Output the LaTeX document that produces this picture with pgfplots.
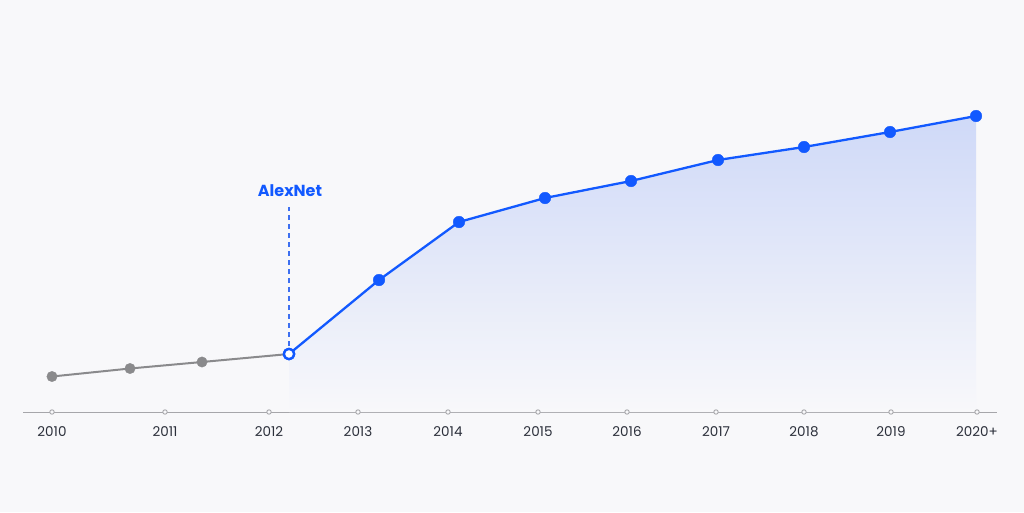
\documentclass[border=0pt]{standalone}
\usepackage{pgfplots}
\pgfplotsset{compat=1.18}
\usepackage{fontspec}
\setmainfont{Poppins}
\usetikzlibrary{backgrounds}

\definecolor{bg}{HTML}{F8F8FA}
\definecolor{mainblue}{HTML}{1259FF}
\definecolor{dashblue}{HTML}{3D6FF0}
\definecolor{fillblue}{HTML}{CFD9F8}
\definecolor{greyline}{HTML}{8A8A8C}
\definecolor{axisgrey}{HTML}{A6A6AA}
\definecolor{labelgrey}{HTML}{2B2F3A}

\begin{document}
\begin{tikzpicture}[show background rectangle,
  background rectangle/.style={fill=bg, draw=none}, inner frame sep=0pt]
\begin{axis}[
  scale only axis,
  width=974pt, height=300pt,
  xmin=23, xmax=997, ymin=0, ymax=300,
  clip=false,
  axis x line=bottom,
  axis y line=none,
  x axis line style={-, draw=axisgrey, line width=1pt},
  xtick={52,165,269,358,448,538,627,716,804,891,977},
  xticklabels={2010,2011,2012,2013,2014,2015,2016,2017,2018,2019,2020+},
  major tick length=0pt,
  xticklabel style={font=\fontsize{13.5}{15}\selectfont, text=labelgrey, yshift=-11pt},
]
% picture extent: 1024 x 512
\path (axis cs:0,-100) rectangle (axis cs:1024,412);

% shaded area under the post-AlexNet curve
\addplot[draw=none, top color=fillblue, bottom color=bg] coordinates {
  (289,58) (379,132) (459,190) (545,214) (631,231) (718,252) (804,265) (890,280) (976,296)
} \closedcycle;

% AlexNet marker
\draw[dashblue, line width=1.3pt, dash pattern=on 5pt off 4pt] (axis cs:289,66) -- (axis cs:289,205);
\node[font=\fontsize{16}{18}\selectfont\bfseries, text=mainblue] at (axis cs:290,221) {AlexNet};

% tick circles
\addplot[only marks, mark=*, mark size=2.2pt, mark options={fill=bg, draw=axisgrey, line width=0.9pt}] coordinates {
  (52,0) (165,0) (269,0) (358,0) (448,0) (538,0) (627,0) (716,0) (804,0) (891,0) (977,0)
};

% before 2012
\addplot[greyline, line width=2pt, mark=*, mark size=5.2pt, mark options={fill=greyline, draw=greyline, line width=0.4pt}] coordinates {
  (52,35.5) (130,43.5) (202,50) (289,58)
};

% after 2012
\addplot[mainblue, line width=2.3pt, mark=*, mark size=5.8pt, mark options={fill=mainblue, draw=mainblue, line width=0.4pt}] coordinates {
  (289,58) (379,132) (459,190) (545,214) (631,231) (718,252) (804,265) (890,280) (976,296)
};

% open point at 2012
\addplot[only marks, mark=*, mark size=5.2pt, mark options={fill=white, draw=mainblue, line width=2.4pt}] coordinates {
  (289,58)
};
\end{axis}
\end{tikzpicture}
\end{document}
